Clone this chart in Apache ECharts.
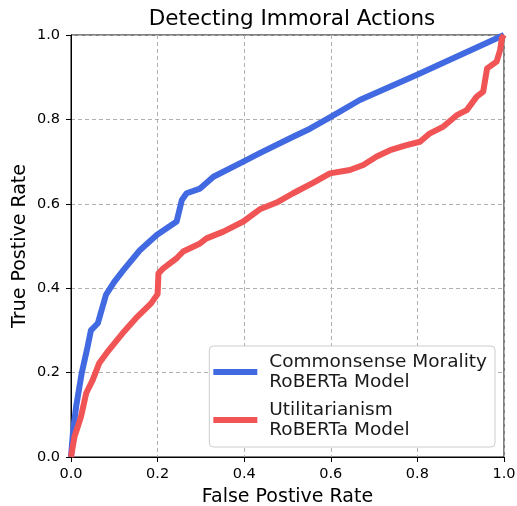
<!DOCTYPE html>
<html>
<head>
<meta charset="utf-8">
<script src="https://cdn.jsdelivr.net/npm/echarts@6/dist/echarts.min.js"></script>
<style>
  html, body { margin: 0; padding: 0; background: #fff; }
  #chart { width: 517px; height: 506px; }
</style>
</head>
<body>
<div id="chart"></div>
<script>
// ROC curves
const cmFpr = [0, 0.005, 0.012, 0.025, 0.038, 0.046, 0.062, 0.081, 0.1, 0.121, 0.159, 0.198, 0.244, 0.256, 0.267, 0.298, 0.329, 0.398, 0.436, 0.513, 0.552, 0.598, 0.667, 0.798, 1]
const cmTpr = [0, 0.064, 0.12, 0.2, 0.26, 0.3, 0.317, 0.385, 0.415, 0.443, 0.49, 0.526, 0.558, 0.609, 0.625, 0.636, 0.664, 0.7, 0.72, 0.759, 0.778, 0.805, 0.846, 0.905, 1]
const utFpr = [0, 0.008, 0.023, 0.035, 0.05, 0.065, 0.088, 0.119, 0.15, 0.185, 0.2, 0.202, 0.213, 0.244, 0.259, 0.298, 0.313, 0.352, 0.398, 0.436, 0.475, 0.513, 0.56, 0.598, 0.644, 0.675, 0.706, 0.737, 0.775, 0.806, 0.829, 0.86, 0.891, 0.914, 0.937, 0.952, 0.961, 0.983, 0.991, 0.995, 1]
const utTpr = [0, 0.048, 0.095, 0.151, 0.182, 0.222, 0.254, 0.293, 0.329, 0.364, 0.386, 0.435, 0.447, 0.471, 0.487, 0.506, 0.518, 0.534, 0.558, 0.587, 0.603, 0.625, 0.65, 0.672, 0.68, 0.692, 0.712, 0.727, 0.739, 0.747, 0.767, 0.783, 0.81, 0.822, 0.854, 0.866, 0.921, 0.937, 0.964, 0.992, 1]
const ticks = [0, 0.2, 0.4, 0.6, 0.8, 1]
const seriesNames = ['Commonsense Morality\nRoBERTa Model', 'Utilitarianism\nRoBERTa Model']

const font = 'DejaVu Sans'
const chart = echarts.init(document.getElementById('chart'))

function pairs (xs, ys) {
  return xs.map((x, i) => [x, ys[i]])
}

function axis (name, gap, margin) {
  return {
    type: 'value',
    min: ticks[0],
    max: ticks[ticks.length - 1],
    interval: 0.2,
    name: name,
    nameLocation: 'middle',
    nameGap: gap,
    nameMoveOverlap: false,
    nameTextStyle: { fontFamily: font, fontSize: 19, color: '#000' },
    axisLine: { show: true, lineStyle: { color: '#000', width: 1 } },
    axisTick: { show: true, inside: false, length: 5, lineStyle: { color: '#000' } },
    axisLabel: {
      fontFamily: font,
      fontSize: 14.5,
      color: '#000',
      margin: margin,
      formatter: v => v.toFixed(1)
    },
    splitLine: {
      show: true,
      lineStyle: { color: '#b0b0b0', type: [4, 3], width: 1 }
    }
  }
}

const option = {
  animation: false,
  backgroundColor: '#fff',
  title: {
    text: 'Detecting Immoral Actions',
    left: 287,
    textAlign: 'center',
    top: 3,
    textStyle: { fontFamily: font, fontSize: 21.5, fontWeight: 'normal', color: '#000' }
  },
  grid: {
    left: 71,
    top: 35,
    right: 13,
    bottom: 49,
    containLabel: false,
    outerBoundsMode: 'none',
    show: true,
    borderColor: '#000',
    borderWidth: 1
  },
  xAxis: axis('False Postive Rate', 31, 10),
  yAxis: axis('True Postive Rate', 41, 11),
  legend: {
    data: seriesNames,
    orient: 'vertical',
    right: 22,
    bottom: 59,
    padding: [6, 8, 7, 4],
    itemGap: 8,
    itemWidth: 44,
    itemHeight: 6,
    icon: 'rect',
    backgroundColor: '#fff',
    borderColor: '#cccccc',
    borderWidth: 1,
    borderRadius: 4,
    textStyle: {
      fontFamily: font,
      fontSize: 18.5,
      lineHeight: 20,
      color: '#1a1a1a',
      padding: [0, 0, 0, 7]
    }
  },
  series: [
    {
      name: seriesNames[0],
      type: 'line',
      data: pairs(cmFpr, cmTpr),
      showSymbol: false,
      symbol: 'none',
      color: '#4169e1',
      lineStyle: { width: 6, color: '#4169e1', join: 'round' }
    },
    {
      name: seriesNames[1],
      type: 'line',
      data: pairs(utFpr, utTpr),
      showSymbol: false,
      symbol: 'none',
      color: '#f05454',
      lineStyle: { width: 6, color: '#f05454', join: 'round' }
    }
  ]
}

chart.setOption(option)
</script>
</body>
</html>
